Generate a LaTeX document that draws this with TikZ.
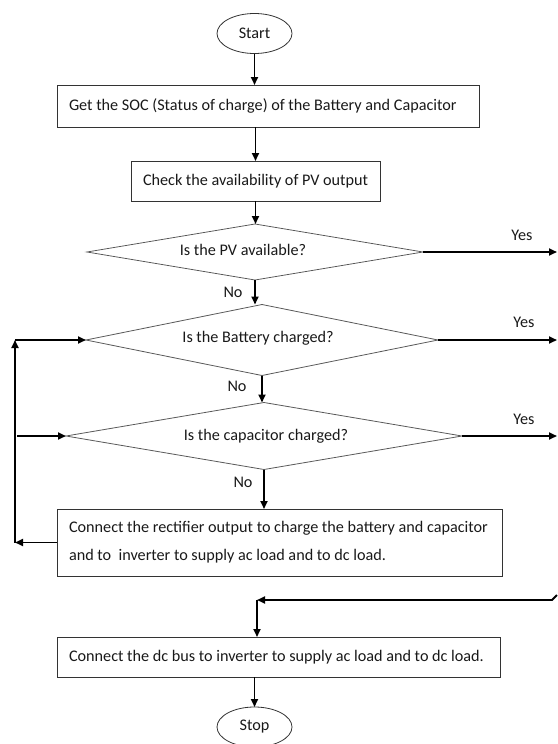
\documentclass[tikz,border=0pt]{standalone}
\usepackage{fontspec}
\setmainfont{Carlito}
\usetikzlibrary{shapes.geometric,arrows.meta}
\begin{document}
\begin{tikzpicture}[x=1pt,y=-1pt,
  font=\fontsize{16.2}{28}\selectfont,
  every node/.style={inner sep=0pt, outer sep=0pt, text=black!90},
  term/.style={ellipse, draw=black!80, line width=0.8pt, minimum width=75pt, minimum height=40pt},
  procbox/.style={rectangle, draw=black!80, line width=0.8pt, minimum width=#1, text width=#1-24pt, align=flush left},
  dec/.style={diamond, draw=black!65, line width=0.8pt, aspect=1},
  arr/.style={line width=1.9pt, -{Triangle[length=8pt,width=7pt]}},
  plain/.style={line width=1.9pt}]

\useasboundingbox (0,0) rectangle (557,744);

% nodes
\node[term] (start) at (254.5,33.5) {Start};
\node[procbox=422pt, minimum height=42pt] (b1) at (268,106) {Get the SOC (Status of charge) of the Battery and Capacitor};
\node[procbox=249pt, minimum height=40pt] (b2) at (255.5,181) {Check the availability of PV output};
\node[dec, minimum width=336pt, minimum height=56pt] (d1) at (255,252) {};
\node (t1) at (243,250) {Is the PV available?};
\node[dec, minimum width=352pt, minimum height=71pt] (d2) at (262,340) {};
\node (t2) at (258,338) {Is the Battery charged?};
\node[dec, minimum width=396pt, minimum height=67pt] (d3) at (264,436) {};
\node (t3) at (266,436) {Is the capacitor charged?};
\node[procbox=445pt, minimum height=67pt] (b3) at (279.5,542.5)
  {Connect the rectifier output to charge the battery and capacitor\\and to~ inverter to supply ac load and to dc load.};
\node[procbox=443pt, minimum height=40pt] (b4) at (278.5,657) {Connect the dc bus to inverter to supply ac load and to dc load.};
\node[term] (stop) at (254.5,727) {Stop};

% labels
\node (n1) at (233,292) {No};
\node (n2) at (237,386) {No};
\node (n3) at (243,482) {No};
\node (y1) at (522,235) {Yes};
\node (y2) at (524,322) {Yes};
\node (y3) at (524,419) {Yes};

% coordinates
\coordinate (lx) at (15,0);
\coordinate (e1) at (557,252);
\coordinate (e2) at (557,340);
\coordinate (e3) at (557,436);
\coordinate (rin) at (557,595);
\coordinate (rc) at (552,600);
\coordinate (rj) at (257,600);

% main flow
\draw[arr] (start.south) -- (start.south |- b1.north);
\draw[arr] (b2.north |- b1.south) -- (b2.north);
\draw[arr] (b2.south) -- (b2.south |- d1.north);
\draw[arr] (d1.south) -- (d1.south |- d2.north);
\draw[arr] (d2.south) -- (d2.south |- d3.north);
\draw[arr] (d3.south) -- (d3.south |- b3.north);

% yes branches
\draw[arr] (d1.east) -- (e1);
\draw[arr] (d2.east) -- (e2);
\draw[arr] (d3.east) -- (e3);

% loop back on the left
\draw[arr] (b3.west) -- (b3.west -| lx);
\draw[arr] (b3.west -| lx) -- (d2.west -| lx);
\draw[arr] (d2.west -| lx) -- (d2.west);
\draw[arr] ([xshift=2pt]d3.west -| lx) -- (d3.west);

% return to dc bus
\draw[arr] (rin) -- (rc) -- (rj);
\draw[arr] (rj) -- (rj |- b4.north);
\draw[arr] (stop.north |- b4.south) -- (stop.north);
\end{tikzpicture}
\end{document}
